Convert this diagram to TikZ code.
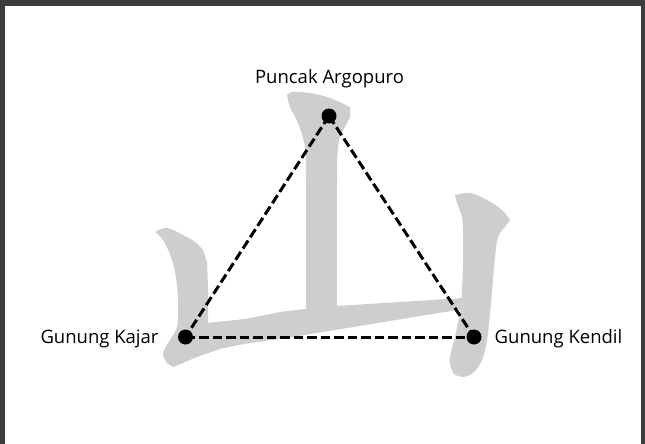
\documentclass[tikz,border=0pt]{standalone}
\usepackage{fontspec}
\setmainfont{Open Sans}
\definecolor{kanji}{RGB}{206,206,206}
\definecolor{frame}{RGB}{60,60,60}
\begin{document}
\begin{tikzpicture}[x=1pt,y=-1pt,
  dot/.style={circle,fill=black,inner sep=0pt,minimum size=15pt},
  lbl/.style={font=\fontsize{18.5}{21}\selectfont,inner sep=0pt,anchor=base},
  link/.style={line width=3pt,dash pattern=on 9.5pt off 4pt}]
\useasboundingbox (0,0) rectangle (645,444);
\fill[white] (0,0) rectangle (645,444);
\fill[frame] (0,0) rectangle (645,6);
\fill[frame] (0,0) rectangle (5,444);
\fill[frame] (641,0) rectangle (645,444);
% kanji
\fill[kanji] plot[smooth,tension=0.6] coordinates {(155,232) (167,228) (183,235) (195,242) (203,250)}
  -- plot[smooth,tension=0.6] coordinates {(207,262) (208,290) (208,323)}
  -- (230,321) -- (230,347)
  -- plot[smooth,tension=0.6] coordinates {(223,348) (197,357) (183,363) (173,367)}
  -- plot[smooth,tension=0.6] coordinates {(167,363) (163,353) (170,340) (176,330) (178,320) (178,300) (176,277) (171,257) (163,240) (155,232)} -- cycle;
\fill[kanji] (208,323) -- (245,319) -- (280,312) -- (305,309) -- (337,306) -- (463,298)
  -- (463,309) -- (280,339) -- (250,343) -- (223,348) -- (208,350) -- cycle;
\fill[kanji] plot[smooth,tension=0.6] coordinates {(287,95) (293,92) (310,93) (330,98) (350,107)}
  -- plot[smooth,tension=0.6] coordinates {(350,117) (346,125) (342,132) (338,147) (337,180) (337,308)}
  -- (306,311)
  -- plot[smooth,tension=0.6] coordinates {(306,311) (306,180) (305,147) (298,123) (290,107) (287,95)} -- cycle;
\fill[kanji] plot[smooth,tension=0.6] coordinates {(455,195) (470,193) (487,200) (502,210) (510,220)}
  -- plot[smooth,tension=0.6] coordinates {(505,227) (498,237) (495,257) (493,280) (490,313) (487,340) (482,360) (473,373) (463,377)}
  -- plot[smooth,tension=0.6] coordinates {(455,375) (451,368) (450,357) (455,337) (460,313) (462,290) (463,263) (463,233) (462,217) (457,203) (455,195)} -- cycle;
% nodes
\node[dot] (top) at (329,116) {};
\node[dot] (left) at (185.5,337) {};
\node[dot] (right) at (474,337) {};
\draw[link] (top.center) -- (left.center);
\draw[link] (top.center) -- (right.center);
\draw[link] (left.center) -- (right.center);
\node[lbl] (ltop) at (329.5,83.5) {Puncak Argopuro};
\node[lbl] (lleft) at (99.5,343.5) {Gunung Kajar};
\node[lbl] (lright) at (558.5,343.5) {Gunung Kendil};
\end{tikzpicture}
\end{document}
